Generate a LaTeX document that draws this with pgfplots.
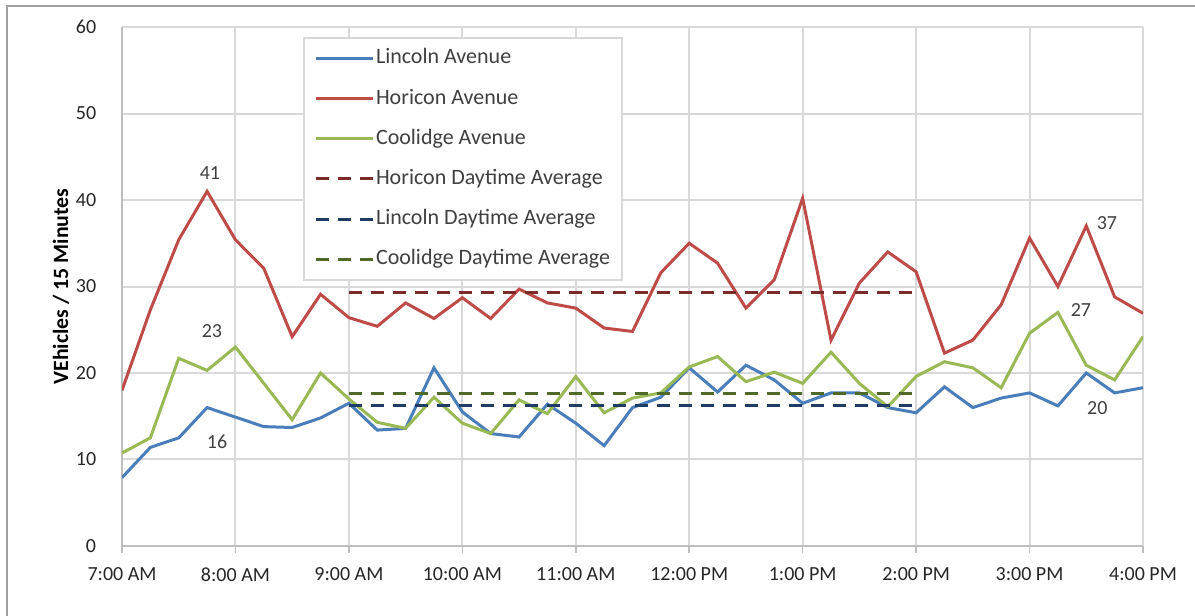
\documentclass[border=0pt]{standalone}
\usepackage{fontspec}
\setmainfont{Carlito}
\usepackage{pgfplots}
\usepackage{pgfplotstable}
\pgfplotsset{compat=1.18}

\definecolor{lincoln}{HTML}{4A7EBB}
\definecolor{horicon}{HTML}{BE4B48}
\definecolor{coolidge}{HTML}{98B954}
\definecolor{horiconavg}{HTML}{7B2C2A}
\definecolor{lincolnavg}{HTML}{1F3D64}
\definecolor{coolidgeavg}{HTML}{4F6A28}
\definecolor{gridgray}{HTML}{D9D9D9}
\definecolor{axisgray}{HTML}{BFBFBF}
\definecolor{framegray}{HTML}{A0A0A0}
\definecolor{labelgray}{HTML}{404040}

% 15-minute counts, 7:00 AM (slot 0) to 4:00 PM (slot 36)
\pgfplotstableread{
slot lincoln horicon coolidge
0  7.9  18.0 10.75
1  11.4 27.3 12.5
2  12.5 35.4 21.7
3  16   41   20.3
4  14.9 35.4 23
5  13.8 32.1 18.8
6  13.7 24.2 14.6
7  14.8 29.1 20.0
8  16.5 26.4 17.0
9  13.4 25.4 14.3
10 13.6 28.1 13.6
11 20.6 26.3 17.2
12 15.5 28.7 14.2
13 13.0 26.3 13.0
14 12.6 29.7 16.9
15 16.4 28.1 15.3
16 14.2 27.5 19.6
17 11.6 25.2 15.4
18 16.0 24.8 17.1
19 17.2 31.6 17.7
20 20.6 35.0 20.7
21 17.8 32.7 21.9
22 20.9 27.5 19.0
23 19.2 30.8 20.1
24 16.5 40.2 18.8
25 17.7 23.8 22.4
26 17.7 30.4 18.8
27 16.0 34.0 16.1
28 15.4 31.7 19.6
29 18.4 22.3 21.3
30 16.0 23.8 20.6
31 17.1 27.9 18.3
32 17.7 35.6 24.6
33 16.2 30.0 27
34 20   37   20.9
35 17.7 28.8 19.2
36 18.3 26.9 24.2
}\counts

\begin{document}
\begin{tikzpicture}
\useasboundingbox (0,0) rectangle (597.5pt,308pt);
\draw[framegray, line width=1pt] (3.5pt,0pt) -- (3.5pt,305pt) -- (597.5pt,305pt);
\begin{axis}[
  at={(61pt,35pt)}, anchor=south west,
  scale only axis, width=510.5pt, height=259.5pt,
  xmin=0, xmax=36, ymin=0, ymax=60,
  axis x line*=bottom, axis y line*=left,
  axis line style={axisgray, line width=0.8pt, -},
  xtick={0,4,...,36},
  xticklabels={7:00 AM,8:00 AM,9:00 AM,10:00 AM,11:00 AM,12:00 PM,1:00 PM,2:00 PM,3:00 PM,4:00 PM},
  ytick={0,10,...,60},
  tick align=outside, major tick length=3.5pt,
  xtick style={axisgray, line width=0.8pt},
  ytick style={draw=none},
  grid=major, grid style={gridgray, line width=1pt},
  tick label style={font=\fontsize{10}{12}\selectfont, text=black!85},
  xticklabel style={yshift=-3.7pt},
  yticklabel style={xshift=-5.9pt},
  /pgf/number format/assume math mode=true,
  ylabel={\bfseries VEhicles / 15 Minutes},
  ylabel style={at={(axis description cs:-0.0597,0.5)}, anchor=center, font=\fontsize{10.9}{13}\selectfont},
  legend cell align=left,
  legend image code/.code={\draw[#1] (0pt,0pt) -- (28.5pt,0pt);},
  legend style={at={(0.1773,0.981)}, anchor=north west,
    draw=gridgray, line width=1pt, fill=white,
    font=\fontsize{11}{13}\selectfont, text=labelgray,
    inner xsep=5pt, inner ysep=4.5pt, row sep=8.6pt,
    nodes={inner sep=1pt, text height=7.5pt, text depth=2pt}},
]
\addplot[lincoln, line width=1.5pt] table[x=slot, y=lincoln] {\counts};
\addlegendentry{Lincoln Avenue}
\addplot[horicon, line width=1.5pt] table[x=slot, y=horicon] {\counts};
\addlegendentry{Horicon Avenue}
\addplot[coolidge, line width=1.5pt] table[x=slot, y=coolidge] {\counts};
\addlegendentry{Coolidge Avenue}
% daytime averages, 9:00 AM to 2:00 PM
\addplot[horiconavg, line width=1.5pt, dash pattern=on 6.5pt off 4.5pt] coordinates {(8,29.3) (28,29.3)};
\addlegendentry{Horicon Daytime Average}
\addplot[lincolnavg, line width=1.5pt, dash pattern=on 6.5pt off 4.5pt] coordinates {(8,16.2) (28,16.2)};
\addlegendentry{Lincoln Daytime Average}
\addplot[coolidgeavg, line width=1.5pt, dash pattern=on 6.5pt off 4.5pt] coordinates {(8,17.6) (28,17.6)};
\addlegendentry{Coolidge Daytime Average}
% value callouts
\begin{scope}[every node/.style={font=\fontsize{10}{12}\selectfont, text=labelgray}]
\node at (axis cs:3.1,43.1) {41};
\node at (axis cs:3.17,24.9) {23};
\node at (axis cs:3.35,12.0) {16};
\node at (axis cs:34.73,37.3) {37};
\node at (axis cs:33.81,27.3) {27};
\node at (axis cs:34.39,15.95) {20};
\end{scope}
\end{axis}
\end{tikzpicture}
\end{document}
